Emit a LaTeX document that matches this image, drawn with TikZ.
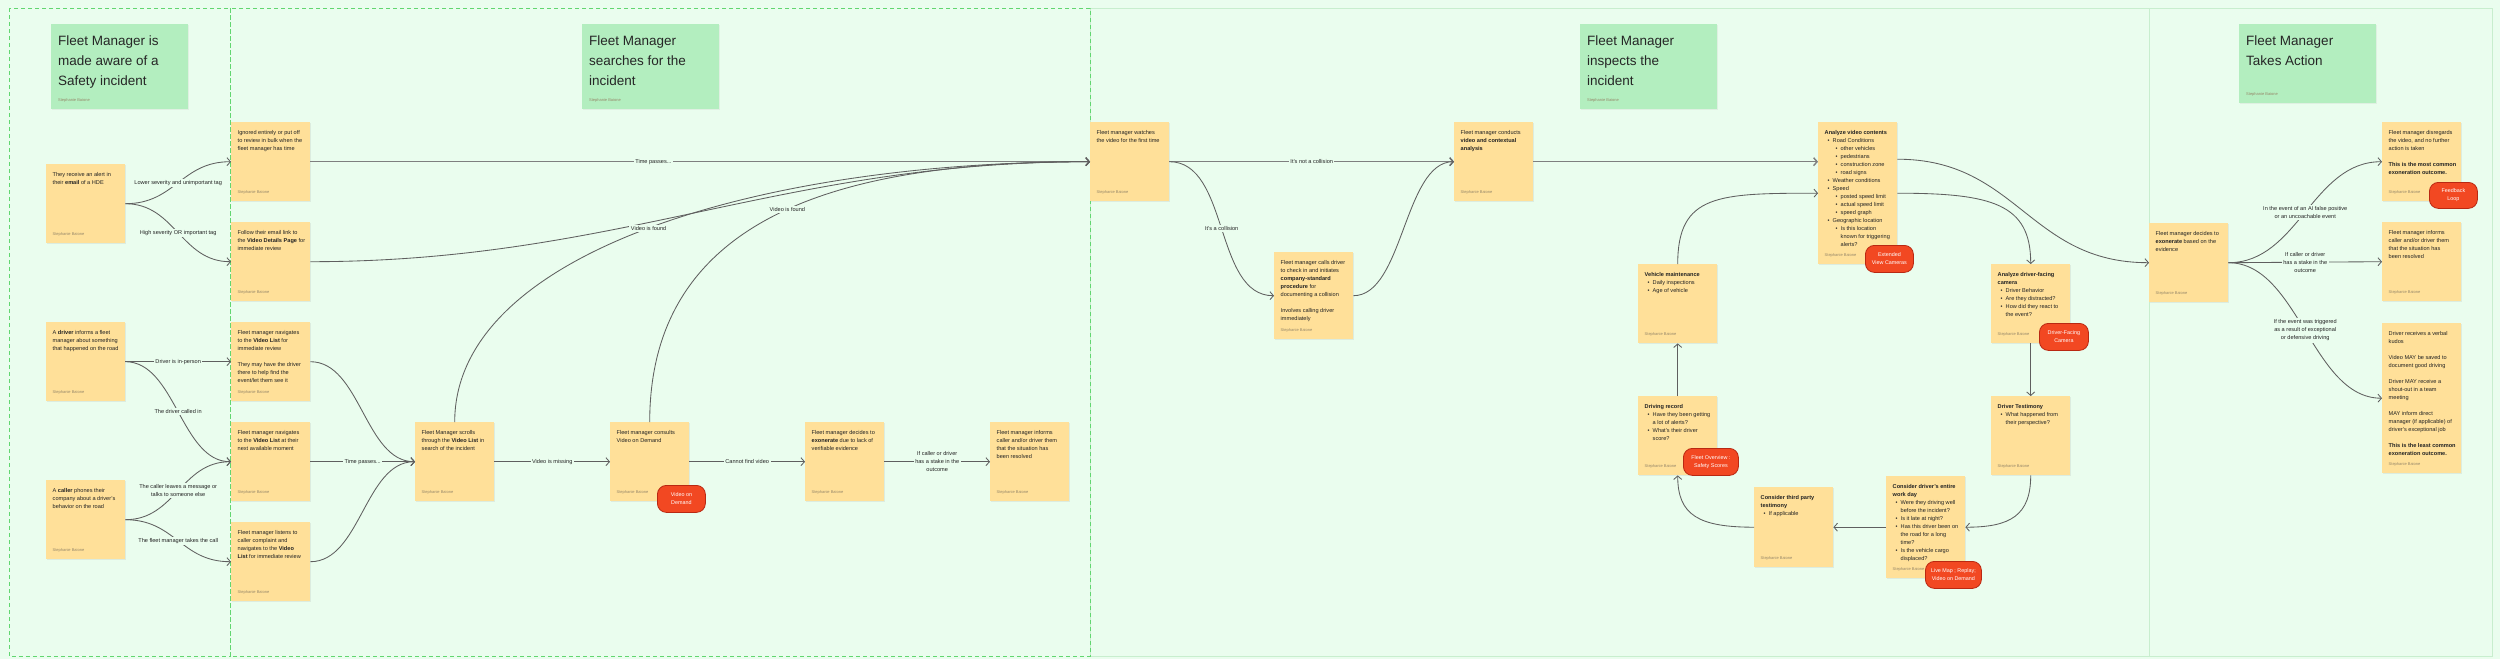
\documentclass[tikz,border=0pt]{standalone}
\usepackage{fontspec}
\setmainfont{Liberation Sans}
\usetikzlibrary{arrows.meta,shadows}

\definecolor{canvasgreen}{RGB}{234,253,238}
\definecolor{headgreen}{RGB}{179,238,191}
\definecolor{stickyyellow}{RGB}{255,224,153}
\definecolor{dashgreen}{RGB}{98,214,112}
\definecolor{edgegreen}{RGB}{200,238,206}
\definecolor{flowgray}{RGB}{95,95,95}
\definecolor{tagred}{RGB}{242,72,34}
\definecolor{tagline}{RGB}{185,40,18}
\definecolor{inktext}{RGB}{35,35,35}
\definecolor{signgray}{RGB}{150,135,105}

\tikzset{
  sticky/.style={fill=stickyyellow, anchor=north west, minimum width=79pt, inner sep=0pt,
    drop shadow={shadow xshift=0.3pt, shadow yshift=-1.2pt, opacity=0.13}},
  notetext/.style={anchor=north west, align=left, inner sep=0pt,
    font=\fontsize{5.6}{8}\selectfont, text=inktext},
  signed/.style={anchor=base west, inner sep=0pt, font=\fontsize{4}{5}\selectfont, text=signgray},
  stage/.style={fill=headgreen, anchor=north west, minimum width=137pt, inner sep=0pt,
    drop shadow={shadow xshift=0.3pt, shadow yshift=-1.2pt, opacity=0.10}},
  stagetext/.style={anchor=north west, align=left, inner sep=0pt,
    font=\fontsize{13.5}{20}\selectfont, text=black!85},
  badge/.style={fill=tagred, draw=tagline, line width=0.8pt, rounded corners=9pt,
    minimum width=48pt, minimum height=27pt, text=white, align=center, inner sep=0pt,
    font=\fontsize{5.4}{8}\selectfont, anchor=north west},
  flow/.style={draw=flowgray, line width=0.85pt, -{Straight Barb[length=3.5pt,width=8pt]}},
  mainflow/.style={flow, draw=flowgray!80, line width=1.4pt},
  flowlabel/.style={fill=canvasgreen, inner sep=1.5pt, align=center,
    font=\fontsize{5.6}{8}\selectfont, text=inktext},
  framedash/.style={draw=dashgreen, line width=0.9pt, dash pattern=on 4pt off 3pt},
  frameline/.style={draw=edgegreen, line width=0.8pt},
}

% sticky note: [height]{name}{x}{y}{text}
\newcommand{\stickynote}[5][79]{%
  \node[sticky, minimum height=#1pt] (#2) at (#3,#4) {};
  \node[notetext] (#2-text) at ([xshift=6.5pt,yshift=-8pt]#2.north west) {#5};
  \node[signed] (#2-sign) at ([xshift=6.5pt,yshift=8pt]#2.south west) {Stephanie Baione};
}
% stage header: {name}{x}{y}{height}{text}
\newcommand{\stagehead}[5]{%
  \node[stage, minimum height=#4pt] (#1) at (#2,#3) {};
  \node[stagetext] (#1-text) at ([xshift=7pt,yshift=-12pt]#1.north west) {#5};
  \node[signed] (#1-sign) at ([xshift=7pt,yshift=8pt]#1.south west) {Stephanie Baione};
}
\newcommand{\itm}{\hspace*{3pt}\makebox[5pt][l]{\textbullet}}
\newcommand{\itmcont}{\hspace*{8pt}}
\newcommand{\subitm}{\hspace*{11pt}\makebox[5pt][l]{\textbullet}}
\newcommand{\subcont}{\hspace*{16pt}}

\begin{document}
\begin{tikzpicture}[x=1pt,y=-1pt]
  \useasboundingbox (0,0) rectangle (2500,659);
  % board and sections
  \fill[canvasgreen] (0,0) rectangle (2500,659);
  \draw[frameline] (1090,8) rectangle (2149,656);
  \draw[frameline] (2149,8) rectangle (2492,656);
  \draw[framedash] (9,8) rectangle (230,656);
  \draw[framedash] (230,8) rectangle (1090,656);

  % stage headers
  \stagehead{aware}{51}{24}{85}{Fleet Manager is\\made aware of a\\Safety incident}
  \stagehead{search}{582}{24}{85}{Fleet Manager\\searches for the\\incident}
  \stagehead{inspect}{1580}{24}{85}{Fleet Manager\\inspects the\\incident}
  \stagehead{action}{2239}{24}{79}{Fleet Manager\\Takes Action}

  % made aware
  \stickynote{email}{46}{164}{They receive an alert in\\their \textbf{email} of a HDE}
  \stickynote{driver}{46}{322}{A \textbf{driver} informs a fleet\\manager about something\\that happened on the road}
  \stickynote{caller}{46}{480}{A \textbf{caller} phones their\\company about a driver's\\behavior on the road}

  % searches
  \stickynote{ignored}{231}{122}{Ignored entirely or put off\\to review in bulk when the\\fleet manager has time}
  \stickynote{follow}{231}{222}{Follow their email link to\\the \textbf{Video Details Page} for\\immediate review}
  \stickynote{navnow}{231}{322}{Fleet manager navigates\\to the \textbf{Video List} for\\immediate review\\[8pt]They may have the driver\\there to help find the\\event/let them see it}
  \stickynote{navlater}{231}{422}{Fleet manager navigates\\to the \textbf{Video List} at their\\next available moment}
  \stickynote{listens}{231}{522}{Fleet manager listens to\\caller complaint and\\navigates to the \textbf{Video}\\\textbf{List} for immediate review}
  \stickynote{scroll}{415}{422}{Fleet Manager scrolls\\through the \textbf{Video List} in\\search of the incident}
  \stickynote{vod}{610}{422}{Fleet manager consults\\Video on Demand}
  \stickynote{lack}{805}{422}{Fleet manager decides to\\\textbf{exonerate} due to lack of\\verifiable evidence}
  \stickynote{resolved}{990}{422}{Fleet manager informs\\caller and/or driver them\\that the situation has\\been resolved}

  % inspects
  \stickynote{watch}{1090}{122}{Fleet manager watches\\the video for the first time}
  \stickynote[87]{collision}{1274}{252}{Fleet manager calls driver\\to check in and initiates\\\textbf{company-standard}\\\textbf{procedure} for\\documenting a collision\\[8pt]Involves calling driver\\immediately}
  \stickynote{analysis}{1454}{122}{Fleet manager conducts\\\textbf{video and contextual}\\\textbf{analysis}}
  \stickynote[142]{contents}{1818}{122}{\textbf{Analyze video contents}\\
    \itm Road Conditions\\
    \subitm other vehicles\\
    \subitm pedestrians\\
    \subitm construction zone\\
    \subitm road signs\\
    \itm Weather conditions\\
    \itm Speed\\
    \subitm posted speed limit\\
    \subitm actual speed limit\\
    \subitm speed graph\\
    \itm Geographic location\\
    \subitm Is this location\\
    \subcont known for triggering\\
    \subcont alerts?}
  \stickynote{maint}{1638}{264}{\textbf{Vehicle maintenance}\\\itm Daily inspections\\\itm Age of vehicle}
  \stickynote{record}{1638}{396}{\textbf{Driving record}\\\itm Have they been getting\\\itmcont a lot of alerts?\\\itm What's their driver\\\itmcont score?}
  \stickynote{facing}{1991}{264}{\textbf{Analyze driver-facing}\\\textbf{camera}\\\itm Driver Behavior\\\itm Are they distracted?\\\itm How did they react to\\\itmcont the event?}
  \stickynote{testimony}{1991}{396}{\textbf{Driver Testimony}\\\itm What happened from\\\itmcont their perspective?}
  \stickynote[102]{workday}{1886}{476}{\textbf{Consider driver's entire}\\\textbf{work day}\\
    \itm Were they driving well\\\itmcont before the incident?\\
    \itm Is it late at night?\\
    \itm Has this driver been on\\\itmcont the road for a long\\\itmcont time?\\
    \itm Is the vehicle cargo\\\itmcont displaced?}
  \stickynote[80]{thirdparty}{1754}{487}{\textbf{Consider third party}\\\textbf{testimony}\\\itm If applicable}

  % takes action
  \stickynote{exon}{2149}{223}{Fleet manager decides to\\\textbf{exonerate} based on the\\evidence}
  \stickynote{disregard}{2382}{122}{Fleet manager disregards\\the video, and no further\\action is taken\\[8pt]\textbf{This is the most common}\\\textbf{exoneration outcome.}}
  \stickynote{informs}{2382}{222}{Fleet manager informs\\caller and/or driver them\\that the situation has\\been resolved}
  \stickynote[150]{kudos}{2382}{323}{Driver receives a verbal\\kudos\\[8pt]Video MAY be saved to\\document good driving\\[8pt]Driver MAY receive a\\shout-out in a team\\meeting\\[8pt]MAY inform direct\\manager (if applicable) of\\driver's exceptional job\\[8pt]\textbf{This is the least common}\\\textbf{exoneration outcome.}}

  % flows: made aware -> searches
  \draw[flow] (email.east) .. controls +(50,0) and +(-50,0) .. (ignored.west)
    node[flowlabel,pos=0.5] {Lower severity and unimportant tag};
  \draw[flow] (email.east) .. controls +(50,0) and +(-50,0) .. (follow.west)
    node[flowlabel,pos=0.5] {High severity OR important tag};
  \draw[flow] (driver.east) -- (navnow.west) node[flowlabel,pos=0.5] {Driver is in-person};
  \draw[flow] (driver.east) .. controls +(50,0) and +(-50,0) .. (navlater.west)
    node[flowlabel,pos=0.5] {The driver called in};
  \draw[flow] (caller.east) .. controls +(50,0) and +(-50,0) .. (navlater.west)
    node[flowlabel,pos=0.5] {The caller leaves a message or\\talks to someone else};
  \draw[flow] (caller.east) .. controls +(50,0) and +(-50,0) .. (listens.west)
    node[flowlabel,pos=0.5] {The fleet manager takes the call};

  % flows: searches
  \draw[mainflow] (ignored.east) -- (watch.west) node[flowlabel,pos=0.44] {Time passes...};
  \draw[flow] (follow.east) .. controls +(308,0) and +(-308,0) .. (watch.west);
  \draw[flow] (navnow.east) .. controls +(50,0) and +(-50,0) .. (scroll.west);
  \draw[flow] (navlater.east) -- (scroll.west) node[flowlabel,pos=0.5] {Time passes...};
  \draw[flow] (listens.east) .. controls +(50,0) and +(-50,0) .. (scroll.west);
  \draw[flow] (scroll.north) .. controls +(0,-170) and +(-330,0) .. (watch.west)
    node[flowlabel,pos=0.5] {Video is found};
  \draw[flow] (scroll.east) -- (vod.west) node[flowlabel,pos=0.5] {Video is missing};
  \draw[flow] (vod.north) .. controls +(0,-220) and +(-220,0) .. (watch.west)
    node[flowlabel,pos=0.5] {Video is found};
  \draw[flow] (vod.east) -- (lack.west) node[flowlabel,pos=0.5] {Cannot find video};
  \draw[flow] (lack.east) -- (resolved.west)
    node[flowlabel,pos=0.5] {If caller or driver\\has a stake in the\\outcome};

  % flows: inspects
  \draw[mainflow] (watch.east) -- (analysis.west) node[flowlabel,pos=0.5] {It's not a collision};
  \draw[flow] (watch.east) .. controls +(60,0) and +(-60,0) .. (collision.west)
    node[flowlabel,pos=0.5] {It's a collision};
  \draw[flow] (collision.east) .. controls +(50,0) and +(-50,0) .. (analysis.west);
  \draw[mainflow] (analysis.east) -- (analysis.east -| contents.west);
  \draw[flow] (maint.north) .. controls +(0,-70) and +(-100,0) .. (contents.west);
  \draw[flow] (record.north) -- (maint.south);
  \draw[flow] (contents.east) .. controls +(95,0) and +(0,-60) .. (facing.north);
  \draw[flow] (facing.south) -- (testimony.north);
  \draw[flow] (testimony.south) .. controls +(0,40) and +(45,0) .. (workday.east);
  \draw[flow] (workday.west) -- (thirdparty.east);
  \draw[flow] (thirdparty.west) .. controls +(-55,0) and +(0,40) .. (record.south);
  \draw[flow] ([yshift=34pt]contents.east) .. controls +(120,0) and +(-120,0) .. (exon.west);

  % flows: takes action
  \draw[flow] (exon.east) .. controls +(70,0) and +(-70,0) .. (disregard.west)
    node[flowlabel,pos=0.5] {In the event of an AI false positive\\or an uncoachable event};
  \draw[flow] (exon.east) -- (informs.west)
    node[flowlabel,pos=0.5] {If caller or driver\\has a stake in the\\outcome};
  \draw[flow] (exon.east) .. controls +(70,0) and +(-70,0) .. (kudos.west)
    node[flowlabel,pos=0.5] {If the event was triggered\\as a result of exceptional\\or defensive driving};

  % product tags
  \node[badge] (vodtag) at (657,485) {Video on\\Demand};
  \node[badge] (extendedtag) at (1865,245) {Extended\\View Cameras};
  \node[badge, minimum width=55pt] (overviewtag) at (1683,448) {Fleet Overview :\\Safety Scores};
  \node[badge, minimum width=49pt] (facingtag) at (2039,323) {Driver-Facing\\Camera};
  \node[badge, minimum width=56pt] (livemaptag) at (1925,561) {Live Map ; Replay;\\Video on Demand};
  \node[badge, minimum height=26pt] (feedbacktag) at (2429,182) {Feedback\\Loop};
\end{tikzpicture}
\end{document}
